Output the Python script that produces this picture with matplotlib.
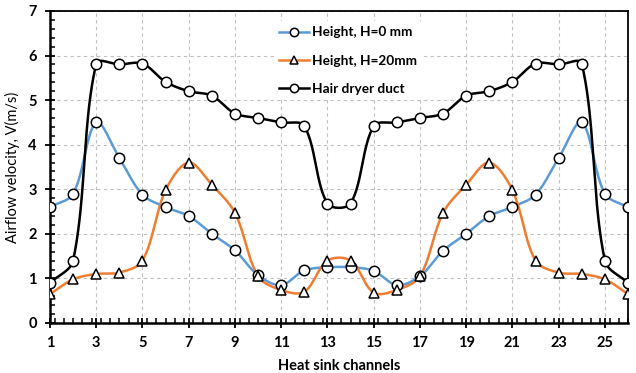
import numpy as np
import matplotlib.pyplot as plt
from matplotlib.ticker import MultipleLocator

plt.rcParams['font.family'] = ['Lato', 'DejaVu Sans']

channels = np.arange(1, 27)
h0 = [2.6, 2.9, 4.5, 3.7, 2.88, 2.6, 2.4, 2.0, 1.63, 1.07, 0.85, 1.18, 1.25,
      1.25, 1.17, 0.85, 1.05, 1.62, 2.0, 2.4, 2.6, 2.88, 3.7, 4.5, 2.9, 2.6]
h20 = [0.65, 0.98, 1.1, 1.13, 1.4, 2.98, 3.6, 3.1, 2.47, 1.05, 0.74, 0.7, 1.4,
       1.4, 0.68, 0.74, 1.05, 2.47, 3.1, 3.6, 2.98, 1.4, 1.13, 1.1, 0.98, 0.65]
dryer = [0.9, 1.4, 5.82, 5.8, 5.82, 5.41, 5.2, 5.1, 4.7, 4.6, 4.5, 4.42, 2.68,
         2.68, 4.42, 4.5, 4.6, 4.7, 5.1, 5.2, 5.41, 5.82, 5.8, 5.82, 1.4, 0.9]
labels = ["Height, H=0 mm", "Height, H=20mm", "Hair dryer duct"]


def smooth(x, y, sx=23.1, sy=44.6, n=40):
    # smoothed line like excel, bezier in screen space (px per unit sx, sy)
    p = np.column_stack([np.asarray(x) * sx, np.asarray(y) * sy]).astype(float)
    m = len(p)
    L = np.linalg.norm(np.diff(p, axis=0), axis=1)
    pts = []
    for i in range(m - 1):
        if i > 0:
            c1 = p[i] + (p[i + 1] - p[i - 1]) * L[i] / (L[i - 1] + L[i]) / 3
        else:
            c1 = p[i] + (p[i + 1] - p[i]) / 3
        if i + 2 < m:
            c2 = p[i + 1] - (p[i + 2] - p[i]) * L[i] / (L[i] + L[i + 1]) / 3
        else:
            c2 = p[i + 1] - (p[i + 1] - p[i]) / 3
        t = np.linspace(0, 1, n)[:, None]
        seg = ((1 - t) ** 3 * p[i] + 3 * (1 - t) ** 2 * t * c1
               + 3 * (1 - t) * t ** 2 * c2 + t ** 3 * p[i + 1])
        pts.append(seg)
    pts = np.vstack(pts)
    return pts[:, 0] / sx, pts[:, 1] / sy


fig = plt.figure(figsize=(6.36, 3.73), dpi=100)
ax = fig.add_axes([50 / 636, 50 / 373, 578 / 636, 312 / 373])

series = [(h0, '#5B9BD5', 'o'), (h20, '#ED7D31', '^'), (dryer, 'black', 'o')]
handles = []
for (vals, col, mk), lab in zip(series, labels):
    sx, sy = smooth(channels, vals)
    ax.plot(sx, sy, color=col, lw=1.8, zorder=3)
    ax.plot(channels, vals, ls='none', marker=mk, ms=7.5, mfc='white',
            mec='black', mew=1.1, zorder=4)
    h, = ax.plot([], [], color=col, lw=1.8, marker=mk, ms=6, mfc='white',
                 mec='black', mew=1.1)
    handles.append(h)

ax.set_xlim(1, 26)
ax.set_ylim(0, 7)
ax.xaxis.set_minor_locator(MultipleLocator(0.4))
ax.yaxis.set_major_locator(MultipleLocator(1))
ax.yaxis.set_minor_locator(MultipleLocator(0.2))
ax.set_xticks(np.arange(1, 27, 2))
ax.tick_params(which='major', direction='inout', length=7, width=1.3,
               labelsize=10.5, pad=6)
ax.tick_params(which='minor', direction='in', length=3.5, width=1.1)
for lb in ax.get_xticklabels() + ax.get_yticklabels():
    lb.set_fontweight('bold')

ax.grid(True, which='major', ls=(0, (3, 3)), color='#BFBFBF', lw=0.8)
ax.set_axisbelow(True)
for s in ax.spines.values():
    s.set_linewidth(1.3)
ax.spines['left'].set_linewidth(1.8)
ax.spines['bottom'].set_linewidth(1.8)

ax.set_xlabel("Heat sink channels", fontsize=10.5, fontweight='bold', labelpad=6)
ax.set_ylabel("Airflow velocity, V(m/s)", fontsize=10.5, labelpad=6)

leg = ax.legend(handles, labels, loc='upper left', bbox_to_anchor=(0.375, 0.99),
                frameon=True, edgecolor='none', facecolor='white', framealpha=1,
                fancybox=False, handlelength=2.2, handletextpad=0.2,
                labelspacing=1.2, prop={'weight': 'bold', 'size': 9.8})

fig.savefig("out.png", dpi=100)
